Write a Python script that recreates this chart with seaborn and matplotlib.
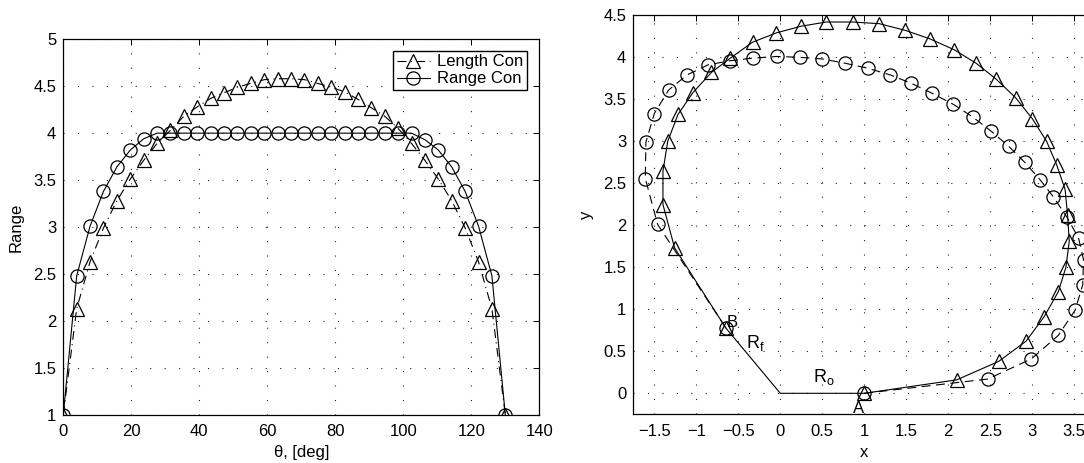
import matplotlib
matplotlib.use("Agg")
import matplotlib.pyplot as plt
import seaborn as sns
import pandas as pd
from matplotlib.ticker import FuncFormatter, MultipleLocator

# ---------------- data ----------------
theta = [0.0, 3.94, 7.88, 11.82, 15.76, 19.70, 23.64, 27.58, 31.52, 35.45,
         39.39, 43.33, 47.27, 51.21, 55.15, 59.09, 63.03, 66.97, 70.91, 74.85,
         78.79, 82.73, 86.67, 90.61, 94.55, 98.48, 102.42, 106.36, 110.30, 114.24,
         118.18, 122.12, 126.06, 130.0]
length_con = [1.0, 2.13, 2.63, 2.99, 3.28, 3.51, 3.71, 3.89, 4.03, 4.18,
              4.28, 4.37, 4.43, 4.49, 4.53, 4.57, 4.58, 4.58, 4.57, 4.53,
              4.49, 4.44, 4.36, 4.27, 4.18, 4.05, 3.89, 3.71, 3.51, 3.28,
              2.99, 2.63, 2.13, 1.0]
range_con = [1.0, 2.48, 3.01, 3.38, 3.64, 3.82, 3.94, 4.0, 4.0, 4.0,
             4.0, 4.0, 4.0, 4.0, 4.0, 4.0, 4.0, 4.0, 4.0, 4.0,
             4.0, 4.0, 4.0, 4.0, 4.0, 4.0, 4.0, 3.93, 3.82, 3.64,
             3.38, 3.01, 2.48, 1.0]

len_x = [1.0, 2.10, 2.60, 2.925, 3.14, 3.31, 3.40, 3.44, 3.42, 3.39,
         3.29, 3.17, 3.00, 2.80, 2.57, 2.33, 2.07, 1.78, 1.49, 1.18,
         0.865, 0.548, 0.246, -0.048, -0.33, -0.595, -0.82, -1.04, -1.218, -1.34,
         -1.397, -1.397, -1.258, -0.647]
len_y = [0.0, 0.16, 0.38, 0.62, 0.91, 1.21, 1.50, 1.81, 2.12, 2.43,
         2.72, 3.00, 3.27, 3.52, 3.74, 3.93, 4.09, 4.22, 4.32, 4.40,
         4.42, 4.42, 4.37, 4.29, 4.18, 3.99, 3.82, 3.58, 3.32, 3.00,
         2.645, 2.247, 1.73, 0.776]
rng_x = [1.0, 2.47, 2.99, 3.31, 3.51, 3.60, 3.61, 3.55, 3.41, 3.25,
         3.09, 2.91, 2.72, 2.51, 2.29, 2.06, 1.81, 1.56, 1.31, 1.04,
         0.77, 0.50, 0.23, -0.04, -0.325, -0.595, -0.86, -1.11, -1.33, -1.50,
         -1.60, -1.607, -1.46, -0.647]
rng_y = [0.0, 0.17, 0.41, 0.69, 0.99, 1.29, 1.59, 1.85, 2.10, 2.34,
         2.545, 2.75, 2.94, 3.12, 3.29, 3.44, 3.57, 3.69, 3.79, 3.87,
         3.93, 3.98, 4.00, 4.01, 3.99, 3.96, 3.91, 3.79, 3.61, 3.33,
         2.99, 2.557, 2.01, 0.776]
geo_x = [1.0, 0.0, -0.647]
geo_y = [0.0, 0.0, 0.776]

series_labels = ["Length Con", "Range Con"]

# ---------------- style ----------------
sns.set_theme(style="white")
plt.rcParams["font.family"] = ["Liberation Sans", "DejaVu Sans"]
plt.rcParams["mathtext.fontset"] = "custom"
plt.rcParams["mathtext.rm"] = "Liberation Sans"
plt.rcParams["mathtext.it"] = "Liberation Sans"
plt.rcParams["text.color"] = "black"
FS = 12

fig = plt.figure(figsize=(10.84, 4.63), dpi=100)
ax1 = fig.add_axes([63.3 / 1084, (463 - 414.7) / 463, 476 / 1084, (414.7 - 39.3) / 463])
ax2 = fig.add_axes([633.3 / 1084, (463 - 414.3) / 463, 462 / 1084, (414.3 - 15.3) / 463])

LW = 0.8
dashdot = (0, (8, 4, 1, 4))
dashed = (0, (8, 5))

def fmt(v, pos):
    s = "%g" % v
    return s.replace("-", "\u2212")

def style_axes(ax):
    ax.grid(True, color="#222222", linestyle=(0, (1, 12)), linewidth=0.8)
    ax.tick_params(direction="in", length=4, width=0.7, top=True, right=True,
                   labelsize=FS, colors="black", pad=5)
    ax.tick_params(axis="x", pad=7)
    for sp in ax.spines.values():
        sp.set_color("black")
        sp.set_linewidth(0.9)
    ax.xaxis.set_major_formatter(FuncFormatter(fmt))
    ax.yaxis.set_major_formatter(FuncFormatter(fmt))

# ---------------- left plot ----------------
df_left = pd.DataFrame({"theta": theta, "len": length_con, "rng": range_con})
sns.lineplot(data=df_left, x="theta", y="len", ax=ax1, sort=False, estimator=None,
             color="black", lw=LW, linestyle=dashdot, marker="^", markersize=10.5,
             markerfacecolor="none", markeredgecolor="black", markeredgewidth=0.9,
             label=series_labels[0])
sns.lineplot(data=df_left, x="theta", y="rng", ax=ax1, sort=False, estimator=None,
             color="black", lw=LW, linestyle="-", marker="o", markersize=9.5,
             markerfacecolor="none", markeredgecolor="black", markeredgewidth=0.9,
             label=series_labels[1])
ax1.set_xlim(0, 140)
ax1.set_ylim(1, 5)
ax1.xaxis.set_major_locator(MultipleLocator(20))
ax1.yaxis.set_major_locator(MultipleLocator(0.5))
style_axes(ax1)
ax1.set_xlabel("\u03b8, [deg]", fontsize=FS, color="black", labelpad=4)
ax1.set_ylabel("Range", fontsize=FS, color="black", labelpad=7)
leg = ax1.legend(loc="upper right", bbox_to_anchor=(526.7 / 1084, (463 - 50.7) / 463),
                 bbox_transform=fig.transFigure, borderaxespad=0, fancybox=False,
                 framealpha=1, edgecolor="black", fontsize=FS, handlelength=2.0,
                 handletextpad=0.4, labelspacing=0.12, borderpad=0.22)
leg.get_frame().set_linewidth(1.0)
for t in leg.get_texts():
    t.set_color("black")

# ---------------- right plot ----------------
df_len = pd.DataFrame({"x": len_x, "y": len_y})
df_rng = pd.DataFrame({"x": rng_x, "y": rng_y})
df_geo = pd.DataFrame({"x": geo_x, "y": geo_y})
sns.lineplot(data=df_geo, x="x", y="y", ax=ax2, sort=False, estimator=None,
             color="black", lw=LW, linestyle="-")
sns.lineplot(data=df_len, x="x", y="y", ax=ax2, sort=False, estimator=None,
             color="black", lw=LW, linestyle="-", marker="^", markersize=10.5,
             markerfacecolor="none", markeredgecolor="black", markeredgewidth=0.9)
sns.lineplot(data=df_rng, x="x", y="y", ax=ax2, sort=False, estimator=None,
             color="black", lw=LW, linestyle=dashed, marker="o", markersize=9.5,
             markerfacecolor="none", markeredgecolor="black", markeredgewidth=0.9)
ax2.set_xlim(-1.75, 3.75)
ax2.set_ylim(-0.25, 4.5)
ax2.xaxis.set_major_locator(MultipleLocator(0.5))
ax2.yaxis.set_major_locator(MultipleLocator(0.5))
style_axes(ax2)
ax2.set_xlabel("x", fontsize=FS, color="black", labelpad=4)
ax2.set_ylabel("y", fontsize=FS, color="black", labelpad=7)
ax2.text(-0.635, 0.795, "B", fontsize=FS, ha="left", va="baseline", color="black")
ax2.text(-0.405, 0.537, r"$\mathregular{R_f}$", fontsize=FS + 1, ha="left",
         va="baseline", color="black")
ax2.text(0.385, 0.14, r"$\mathregular{R_o}$", fontsize=FS + 1, ha="left",
         va="baseline", color="black")
ax2.text(0.93, -0.235, "A", fontsize=FS, ha="center", va="baseline", color="black")

fig.savefig("out.png", dpi=100)
